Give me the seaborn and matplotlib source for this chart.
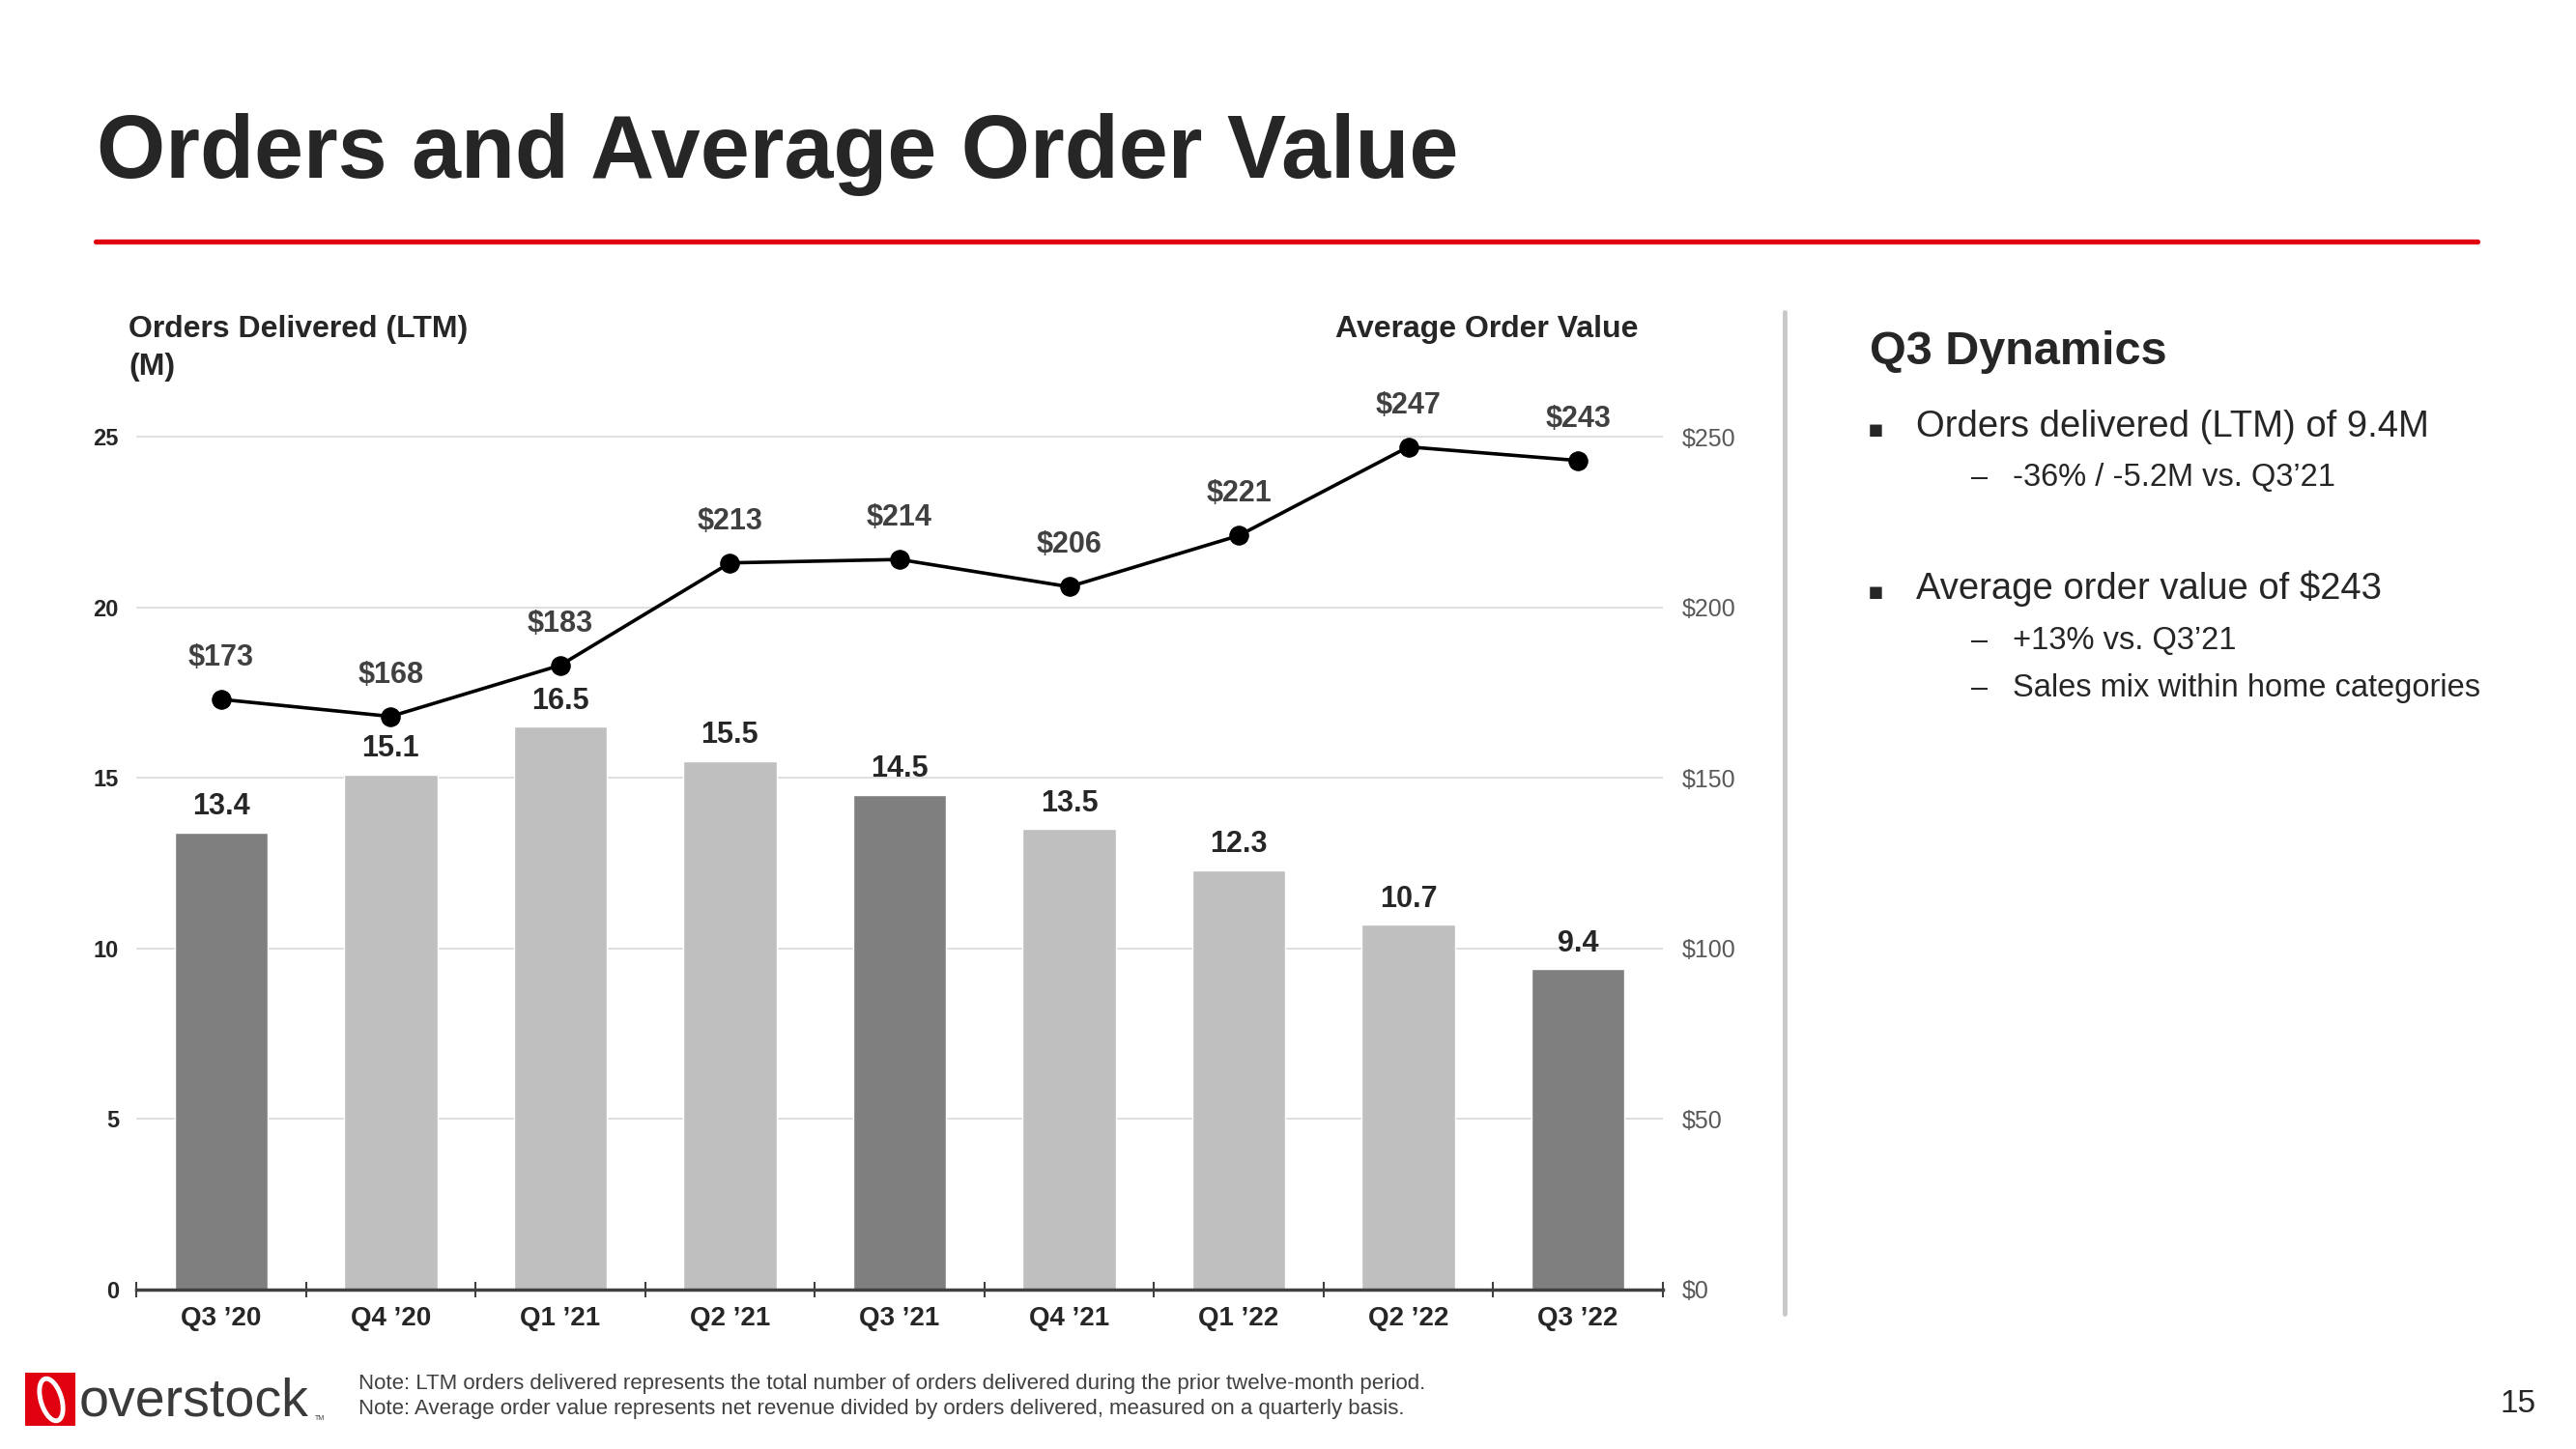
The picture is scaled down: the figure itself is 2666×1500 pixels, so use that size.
import numpy as np
import pandas as pd
import matplotlib
matplotlib.use("Agg")
import matplotlib.pyplot as plt
import seaborn as sns
from matplotlib import font_manager
from matplotlib.patches import Rectangle, Ellipse
from matplotlib.lines import Line2D

# Data
quarters = ["Q3 ’20", "Q4 ’20", "Q1 ’21", "Q2 ’21", "Q3 ’21", "Q4 ’21", "Q1 ’22", "Q2 ’22", "Q3 ’22"]
orders = [13.4, 15.1, 16.5, 15.5, 14.5, 13.5, 12.3, 10.7, 9.4]
aov = [173, 168, 183, 213, 214, 206, 221, 247, 243]
left_ticks = [0, 5, 10, 15, 20, 25]
right_ticks = [0, 50, 100, 150, 200, 250]

W, H = 2666, 1500
def fx(x):
    return x / W
def fy(y):
    return 1 - y / H

sns.set_theme(style="white")
names = {f.name for f in font_manager.fontManager.ttflist}
narrow = "Liberation Sans Narrow" if "Liberation Sans Narrow" in names else "Liberation Sans"
plt.rcParams["font.family"] = ["Liberation Sans", "DejaVu Sans"]

fig = plt.figure(figsize=(W / 100, H / 100), dpi=100)
fig.patch.set_facecolor("white")

# -----------------------------
# Bars: orders delivered
# -----------------------------
df = pd.DataFrame({"quarter": quarters, "orders": orders, "aov": aov})
palette = {q: ("#7f7f7f" if q.startswith("Q3") else "#bfbfbf") for q in quarters}

ax = fig.add_axes([0.0529, 0.11, 0.5926, 0.6593])
sns.barplot(data=df, x="quarter", y="orders", hue="quarter", palette=palette,
            legend=False, width=0.55, saturation=1, ax=ax)
ax.set_ylim(0, 28)
ax.set_xlim(-0.5, len(quarters) - 0.5)
ax.set_xlabel("")
ax.set_ylabel("")
ax.set_yticks(left_ticks)
ax.set_yticklabels([str(t) for t in left_ticks], fontweight="bold", fontsize=17, color="#262626")
ax.tick_params(axis="y", length=0, pad=13)
ax.set_xticks(range(len(quarters)))
ax.set_xticklabels(quarters, fontweight="bold", fontsize=20, color="#262626")
ax.tick_params(axis="x", which="major", length=0, pad=12)
ax.set_xticks(np.arange(-0.5, len(quarters), 1), minor=True)
ax.tick_params(axis="x", which="minor", bottom=True, direction="inout", length=12,
               width=1.5, color="#404040")
ax.yaxis.grid(True, color="#d9d9d9", lw=1.2)
ax.set_axisbelow(True)
for s in ["top", "left", "right"]:
    ax.spines[s].set_visible(False)
ax.spines["bottom"].set_color("#404040")
ax.spines["bottom"].set_linewidth(2.5)

for i, v in enumerate(orders):
    ax.annotate(f"{v}", (i, v), xytext=(0, 19), textcoords="offset points",
                ha="center", va="center", fontsize=22, fontweight="bold", color="#262626")

# -----------------------------
# Line: average order value
# -----------------------------
ax2 = ax.twinx()
sns.lineplot(x=np.arange(len(quarters)), y=aov, ax=ax2, color="black", lw=2.6,
             marker="o", markersize=14, markeredgecolor="black")
ax2.set_ylim(0, 280)
ax2.set_xlim(-0.5, len(quarters) - 0.5)
ax2.set_yticks(right_ticks)
ax2.set_yticklabels([f"${t}" for t in right_ticks], fontsize=18, color="#595959")
ax2.tick_params(axis="y", length=0, pad=14)
ax2.set_ylabel("")
for s in ax2.spines.values():
    s.set_visible(False)

for i, v in enumerate(aov):
    ax2.annotate(f"${v}", (i, v), xytext=(0, 31), textcoords="offset points",
                 ha="center", va="center", fontsize=22, fontweight="bold", color="#404040")

# -----------------------------
# Slide decorations
# -----------------------------
fig.text(fx(100), fy(184), "Orders and Average Order Value", family=narrow,
         fontsize=66, fontweight="bold", color="#262626", va="baseline")
fig.add_artist(Line2D([fx(99), fx(2564)], [fy(250), fy(250)], lw=3.8, color="#e00010"))
fig.add_artist(Line2D([fx(1847), fx(1847)], [fy(323), fy(1360)], lw=3.5, color="#c8c8c8"))

fig.text(fx(133), fy(349), "Orders Delivered (LTM)", fontsize=23, fontweight="bold",
         color="#262626", va="baseline")
fig.text(fx(133), fy(388), "(M)", fontsize=23, fontweight="bold", color="#262626", va="baseline")
fig.text(fx(1695), fy(349), "Average Order Value", fontsize=23, fontweight="bold",
         color="#262626", va="baseline", ha="right")

# Right panel
fig.text(fx(1935), fy(377), "Q3 Dynamics", fontsize=35, fontweight="bold",
         color="#262626", va="baseline")
bullets = [
    (452, "Orders delivered (LTM) of 9.4M"),
    (620, "Average order value of $243"),
]
subs = [
    (503, "-36% / -5.2M vs. Q3’21"),
    (672, "+13% vs. Q3’21"),
    (721, "Sales mix within home categories"),
]
for y, t in bullets:
    fig.text(fx(1933), fy(y), "▪", fontsize=18, color="#262626", va="baseline",
             family=["DejaVu Sans"])
    fig.text(fx(1983), fy(y), t, fontsize=27.5, color="#262626", va="baseline")
for y, t in subs:
    fig.text(fx(2040), fy(y), "–", fontsize=22, color="#262626", va="baseline")
    fig.text(fx(2083), fy(y), t, fontsize=23.5, color="#262626", va="baseline")

# Footer
fig.text(fx(371), fy(1438), "Note: LTM orders delivered represents the total number of orders delivered during the prior twelve-month period.",
         fontsize=16, color="#404040", va="baseline")
fig.text(fx(371), fy(1464), "Note: Average order value represents net revenue divided by orders delivered, measured on a quarterly basis.",
         fontsize=16, color="#404040", va="baseline")
fig.text(fx(2606), fy(1462), "15", fontsize=24, color="#262626", va="baseline", ha="center",
         family=narrow)

# Logo
fig.add_artist(Rectangle((fx(26), fy(1476)), fx(52), 55 / H, transform=fig.transFigure,
                         facecolor="#e00010", edgecolor="none"))
fig.add_artist(Ellipse((fx(53), fy(1449)), 22 / W, 44 / H, angle=8, transform=fig.transFigure,
                       facecolor="none", edgecolor="white", lw=3.5))
fig.text(fx(82), fy(1466), "overstock", family=narrow, fontsize=40, color="#3a3a3a",
         va="baseline")
fig.text(fx(326), fy(1470), "TM", fontsize=5, color="#3a3a3a", va="baseline")

fig.savefig("out.png", dpi=100, facecolor="white")
